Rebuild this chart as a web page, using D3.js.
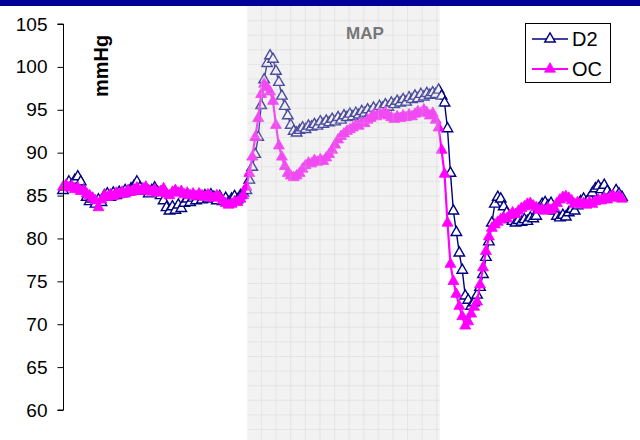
<!DOCTYPE html>
<html>
<head>
<meta charset="utf-8">
<script src="https://cdn.jsdelivr.net/npm/d3@7"></script>
<style>
  html, body { margin: 0; padding: 0; background: #fff; }
  svg { display: block; font-family: "Liberation Sans", Arial, sans-serif; }
</style>
</head>
<body>
<svg id="chart" width="640" height="440"></svg>
<script>
// Mean arterial pressure (mmHg), one sample per beat-averaged interval
const d2 = [
  85.6, 86.0, 86.6, 86.2, 86.8, 87.2, 86.6, 85.6, 84.8, 84.3,
  84.6, 84.0, 84.5, 84.2, 85.0, 85.2, 84.8, 85.3, 85.0, 85.4,
  85.2, 85.6, 85.4, 85.8, 86.1, 86.6, 85.9, 85.5, 85.7, 85.2,
  85.6, 85.9, 85.4, 85.0, 84.4, 83.6, 83.2, 83.7, 83.3, 83.9,
  83.5, 84.1, 84.6, 84.2, 84.7, 84.4, 84.9, 84.5, 85.0, 84.6,
  85.1, 84.8, 84.4, 84.9, 84.3, 84.7, 84.2, 84.6, 84.9, 84.5,
  85.0, 85.3, 85.6, 86.8, 88.3, 89.8, 91.8, 95.5, 98.5, 100.4,
  101.3, 100.9, 99.5, 98.2, 96.6, 95.4, 94.3, 93.2, 92.5, 92.3,
  92.6, 92.9, 92.7, 93.1, 93.0, 93.3, 93.1, 93.6, 93.3, 93.7,
  93.5, 93.9, 93.6, 94.1, 93.8, 94.3, 94.1, 94.5, 94.2, 94.6,
  94.4, 94.8, 94.6, 95.0, 94.7, 95.2, 94.9, 95.4, 95.2, 95.6,
  95.3, 95.8, 95.6, 96.0, 95.8, 96.2, 95.9, 96.4, 96.2, 96.6,
  96.3, 96.8, 96.5, 96.9, 96.7, 97.0, 96.8, 97.3, 96.6, 95.8,
  92.8, 87.6, 83.2, 80.7, 78.3, 76.3, 73.3, 72.8, 72.1, 72.5,
  73.4, 74.3, 75.8, 77.8, 79.6, 81.8, 84.0, 84.8, 84.6, 83.7,
  83.0, 82.2, 82.0, 81.8, 82.1, 81.9, 82.2, 82.0, 82.4, 82.3,
  82.6, 83.5, 84.0, 84.2, 83.8, 84.1, 83.2, 82.6, 82.4, 82.7,
  82.5, 83.0, 83.4, 83.2, 83.8, 84.3, 84.6, 84.2, 84.7, 85.3,
  85.8, 86.1, 85.7, 86.2, 85.5, 85.0, 84.9, 85.6, 85.2, 84.8
];
const oc = [
  86.0, 86.2, 85.9, 86.1, 85.7, 85.9, 85.5, 85.6, 85.2, 85.0,
  84.7, 84.4, 83.6, 84.5, 85.0, 84.8, 85.1, 84.9, 85.3, 85.1,
  85.4, 85.2, 85.6, 85.4, 85.7, 85.9, 85.5, 85.8, 86.0, 85.6,
  85.4, 85.7, 85.3, 85.5, 85.8, 85.2, 85.0, 85.4, 85.6, 85.3,
  85.5, 85.1, 85.3, 85.0, 85.2, 84.9, 85.2, 85.0, 84.8, 85.1,
  84.9, 84.7, 85.0, 84.8, 84.4, 84.1, 83.9, 84.0, 84.3, 84.2,
  84.6, 85.0, 86.0, 87.6, 89.5, 91.8, 94.0, 96.8, 98.0, 97.6,
  97.1, 96.0, 93.2, 90.8, 89.5, 88.4, 87.6, 87.3, 87.1, 87.3,
  87.6, 88.1, 88.5, 88.8, 88.7, 89.1, 88.9, 89.2, 89.0, 89.4,
  89.8, 90.3, 90.9, 91.5, 91.9, 92.2, 92.5, 92.7, 92.9, 93.2,
  93.1, 93.5, 93.4, 93.8, 94.0, 94.4, 94.2, 94.6, 94.4, 94.7,
  94.3, 94.1, 93.9, 94.2, 94.0, 94.3, 94.1, 94.4, 94.2, 94.5,
  94.8, 94.6, 95.0, 94.7, 94.3, 94.6, 93.8, 92.9, 90.3, 87.5,
  81.8, 77.0, 75.0, 73.5, 72.1, 70.9, 69.8, 70.3, 71.2, 72.0,
  72.6, 74.6, 76.6, 78.5, 80.2, 81.2, 81.6, 81.9, 82.2, 82.4,
  82.3, 82.7, 83.0, 82.8, 83.2, 83.5, 83.7, 84.0, 84.1, 83.8,
  83.6, 83.3, 83.4, 83.2, 83.5, 83.3, 83.6, 84.1, 84.5, 84.8,
  84.9, 84.7, 84.4, 84.0, 84.2, 84.0, 84.1, 83.9, 84.2, 84.0,
  84.3, 84.5, 84.4, 84.7, 84.5, 84.8, 85.0, 84.7, 84.9, 84.6
];
const seriesNames = ["D2", "OC"];
const seriesColors = ["#000080", "#ff00ff"];
const yTicks = [60, 65, 70, 75, 80, 85, 90, 95, 100, 105];
const yLabel = "mmHg";
const phaseLabel = "MAP";
// sample range covered by the highlighted MAP phase
const phaseRange = [62.3, 127.4];

const svg = d3.select("#chart");
const W = 640, H = 440;

// header band
svg.append("rect").attr("x", 0).attr("y", 0).attr("width", W).attr("height", 6)
  .attr("fill", "#000099");

const x = d3.scaleLinear().domain([0, d2.length - 1]).range([63, 622]);
const y = d3.scaleLinear().domain([60, 105]).range([410, 24]);

const plot = svg.append("g");

// series styles
const markerSize = [48, 52];
const lineWidth = [1.4, 2.2];
const series = [d2, oc];
const line = d3.line().x((d, i) => x(i)).y(d => y(d));
const tri = d3.symbol().type(d3.symbolTriangle);

series.forEach((vals, s) => {
  const g = plot.append("g");
  g.append("path").datum(vals)
    .attr("d", line)
    .attr("fill", "none")
    .attr("stroke", seriesColors[s])
    .attr("stroke-width", lineWidth[s])
    .attr("stroke-linejoin", "round");
  g.selectAll("path.mk").data(vals).join("path")
    .attr("class", "mk")
    .attr("transform", (d, i) => `translate(${x(i)},${y(d)})`)
    .attr("d", tri.size(markerSize[s])())
    .attr("fill", s === 0 ? "#fff" : seriesColors[s])
    .attr("stroke", seriesColors[s])
    .attr("stroke-width", s === 0 ? 1.4 : 0.8);
});

// highlighted phase panel (translucent, gridded)
const px0 = x(phaseRange[0]), px1 = x(phaseRange[1]);
const panel = svg.append("g");
panel.append("rect")
  .attr("x", px0).attr("y", 6).attr("width", px1 - px0).attr("height", H - 6)
  .attr("fill", "rgb(217,217,217)").attr("fill-opacity", 0.34);
const step = 14.6;
panel.selectAll("line.v").data(d3.range(px0 + 14.3, px1, step)).join("line")
  .attr("class", "v")
  .attr("x1", d => d).attr("x2", d => d).attr("y1", 6).attr("y2", H)
  .attr("stroke", "rgb(195,195,195)").attr("stroke-opacity", 0.25).attr("stroke-width", 1);
panel.selectAll("line.h").data(d3.range(20.7, H, step)).join("line")
  .attr("class", "h")
  .attr("x1", px0).attr("x2", px1).attr("y1", d => d).attr("y2", d => d)
  .attr("stroke", "rgb(195,195,195)").attr("stroke-opacity", 0.25).attr("stroke-width", 1);
panel.append("text")
  .attr("x", 365).attr("y", 39)
  .attr("text-anchor", "middle")
  .attr("font-size", 17).attr("font-weight", "bold")
  .attr("fill", "#777")
  .text(phaseLabel);

// y axis
const yAxis = d3.axisLeft(y).tickValues(yTicks).tickSize(6).tickPadding(10).tickFormat(d3.format("d"));
const ag = svg.append("g").attr("transform", "translate(63.5,0)").call(yAxis);
ag.select(".domain").attr("stroke", "#000").attr("d", `M-6,${y(105)}H0V${y(60)}H-6`);
ag.selectAll(".tick line").attr("stroke", "#000");
ag.selectAll(".tick text").attr("font-size", 19).attr("fill", "#000")
  .attr("font-family", "Liberation Sans, Arial, sans-serif");

// unit label
svg.append("text")
  .attr("transform", "translate(108,66) rotate(-90)")
  .attr("text-anchor", "middle")
  .attr("font-size", 20).attr("font-weight", "bold")
  .text(yLabel);

// legend
const lg = svg.append("g");
lg.append("rect").attr("x", 525.5).attr("y", 23.5).attr("width", 85).attr("height", 59)
  .attr("fill", "#fff").attr("stroke", "#000").attr("stroke-width", 1);
seriesNames.forEach((name, s) => {
  const ly = s === 0 ? 39 : 69;
  lg.append("line").attr("x1", 532).attr("x2", 568).attr("y1", ly).attr("y2", ly)
    .attr("stroke", seriesColors[s]).attr("stroke-width", lineWidth[s]);
  lg.append("path").attr("transform", `translate(550,${ly})`)
    .attr("d", tri.size(markerSize[s])())
    .attr("fill", s === 0 ? "#fff" : seriesColors[s])
    .attr("stroke", seriesColors[s]).attr("stroke-width", s === 0 ? 1.4 : 0.8);
  lg.append("text").attr("x", 572).attr("y", ly + 7)
    .attr("font-size", 20).attr("fill", "#000").text(name);
});
</script>
</body>
</html>
